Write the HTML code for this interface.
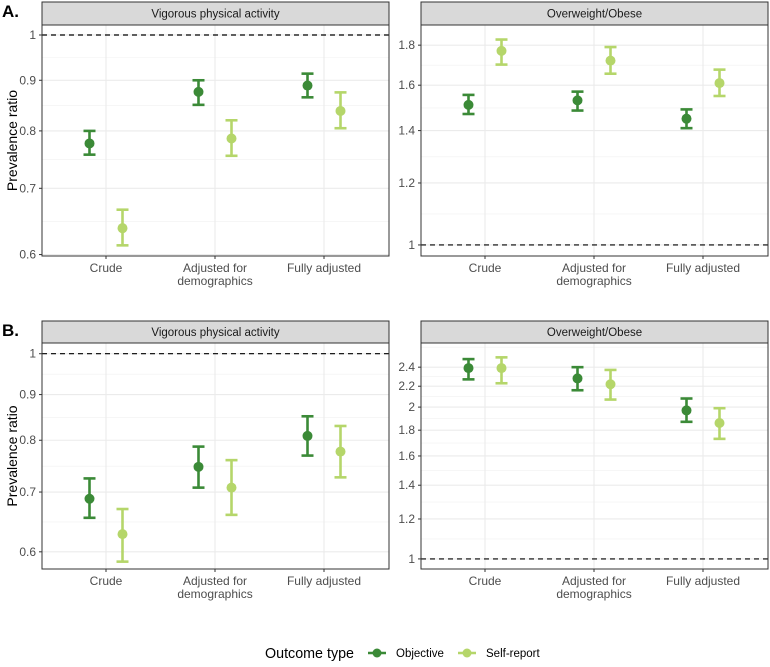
<!DOCTYPE html>
<html><head><meta charset="utf-8">
<style>
body{margin:0;background:#fff;}
svg text{font-family:"Liberation Sans",sans-serif;}
</style></head>
<body>
<svg id="chart" width="770" height="662" viewBox="0 0 770 662" xmlns="http://www.w3.org/2000/svg"></svg>
<script>
const categories = ["Crude", "Adjusted for demographics", "Fully adjusted"];
const seriesNames = ["Objective", "Self-report"];
// Panel A left: Vigorous physical activity
const aVigObj = [0.777, 0.876, 0.889];
const aVigObjLo = [0.757, 0.850, 0.865];
const aVigObjHi = [0.800, 0.900, 0.914];
const aVigSelf = [0.638, 0.786, 0.838];
const aVigSelfLo = [0.613, 0.755, 0.805];
const aVigSelfHi = [0.666, 0.820, 0.875];
// Panel A right: Overweight/Obese
const aOwObj = [1.51, 1.53, 1.45];
const aOwObjLo = [1.47, 1.485, 1.41];
const aOwObjHi = [1.555, 1.57, 1.49];
const aOwSelf = [1.77, 1.72, 1.61];
const aOwSelfLo = [1.70, 1.655, 1.55];
const aOwSelfHi = [1.83, 1.79, 1.675];
// Panel B left
const bVigObj = [0.688, 0.747, 0.809];
const bVigObjLo = [0.655, 0.708, 0.769];
const bVigObjHi = [0.725, 0.787, 0.851];
const bVigSelf = [0.628, 0.708, 0.777];
const bVigSelfLo = [0.585, 0.660, 0.727];
const bVigSelfHi = [0.670, 0.760, 0.830];
// Panel B right
const bOwObj = [2.39, 2.28, 1.97];
const bOwObjLo = [2.27, 2.16, 1.87];
const bOwObjHi = [2.49, 2.40, 2.08];
const bOwSelf = [2.39, 2.22, 1.86];
const bOwSelfLo = [2.23, 2.07, 1.73];
const bOwSelfHi = [2.51, 2.37, 1.99];
// Tick labels
const vigTicks = [0.6, 0.7, 0.8, 0.9, 1];
const vigTickLabels = ["0.6", "0.7", "0.8", "0.9", "1"];
const owTicksA = [1, 1.2, 1.4, 1.6, 1.8];
const owTickLabelsA = ["1", "1.2", "1.4", "1.6", "1.8"];
const owTicksB = [1, 1.2, 1.4, 1.6, 1.8, 2, 2.2, 2.4];
const owTickLabelsB = ["1", "1.2", "1.4", "1.6", "1.8", "2", "2.2", "2.4"];

const NS = "http://www.w3.org/2000/svg";
const svg = document.getElementById("chart");
const COL = ["#3b8a37", "#b5d66a"];
function mk(tag, attrs, parent){
  const e = document.createElementNS(NS, tag);
  for (const k in attrs) e.setAttribute(k, attrs[k]);
  (parent||svg).appendChild(e);
  return e;
}

const panels = [
  {name:"a-vigorous", title:"Vigorous physical activity", x0:42, x1:389, sy:2, y0:25, y1:256, dmin:0.598, dmax:1.0235,
   ticks:vigTicks, labels:vigTickLabels, obj:[aVigObj,aVigObjLo,aVigObjHi], self:[aVigSelf,aVigSelfLo,aVigSelfHi], yTitle:true, tag:"A."},
  {name:"a-overweight", title:"Overweight/Obese", x0:421, x1:768, sy:2, y0:25, y1:256, dmin:0.968, dmax:1.91,
   ticks:owTicksA, labels:owTickLabelsA, obj:[aOwObj,aOwObjLo,aOwObjHi], self:[aOwSelf,aOwSelfLo,aOwSelfHi]},
  {name:"b-vigorous", title:"Vigorous physical activity", x0:42, x1:389, sy:321, y0:343, y1:569, dmin:0.574, dmax:1.028,
   ticks:vigTicks, labels:vigTickLabels, obj:[bVigObj,bVigObjLo,bVigObjHi], self:[bVigSelf,bVigSelfLo,bVigSelfHi], yTitle:true, tag:"B."},
  {name:"b-overweight", title:"Overweight/Obese", x0:421, x1:768, sy:321, y0:343, y1:569, dmin:0.955, dmax:2.68,
   ticks:owTicksB, labels:owTickLabelsB, obj:[bOwObj,bOwObjLo,bOwObjHi], self:[bOwSelf,bOwSelfLo,bOwSelfHi]}
];

panels.forEach(p => {
  const g = mk("g", {});
  
  
  const L0 = Math.log(p.dmin), L1 = Math.log(p.dmax);
  const yS = v => p.y1 - (Math.log(v) - L0) / (L1 - L0) * (p.y1 - p.y0);
  const w = p.x1 - p.x0;
  const xS = i => p.x0 + w * (64 + 109 * i) / 347;
  const dodge = 16.5;
  for (let i = 0; i < p.ticks.length - 1; i++) {
    const m = Math.exp((Math.log(p.ticks[i]) + Math.log(p.ticks[i+1])) / 2);
    mk("line", {x1:p.x0, x2:p.x1, y1:yS(m), y2:yS(m), stroke:"#f0f0f0", "stroke-width":0.6}, g);
  }
  {
    const lo = p.ticks[0], hi = p.ticks[p.ticks.length-1];
    const st = Math.log(p.ticks[1]) - Math.log(lo);
    [Math.exp(Math.log(lo) - st/2), Math.exp(Math.log(hi) + st/2)].forEach(m => {
      if (m > p.dmin && m < p.dmax) mk("line", {x1:p.x0, x2:p.x1, y1:yS(m), y2:yS(m), stroke:"#f0f0f0", "stroke-width":0.6}, g);
    });
  }
  p.ticks.forEach((t, i) => {
    mk("line", {x1:p.x0, x2:p.x1, y1:yS(t), y2:yS(t), stroke:"#ebebeb", "stroke-width":1.1}, g);
    mk("line", {x1:p.x0-3, x2:p.x0, y1:yS(t), y2:yS(t), stroke:"#333", "stroke-width":1}, g);
    const tl = mk("text", {x:p.x0-6, y:yS(t)+4, "text-anchor":"end", "font-size":12, fill:"#4d4d4d"}, g);
    tl.textContent = p.labels[i];
    
    
  });
  categories.forEach((c, i) => {
    mk("line", {x1:xS(i), x2:xS(i), y1:p.y0, y2:p.y1, stroke:"#ebebeb", "stroke-width":1.1}, g);
    mk("line", {x1:xS(i), x2:xS(i), y1:p.y1, y2:p.y1+3, stroke:"#333", "stroke-width":1}, g);
    const words = c === "Adjusted for demographics" ? ["Adjusted for", "demographics"] : [c];
    words.forEach((wd, k) => {
      const tx = mk("text", {x:xS(i), y:p.y1+16+k*13, "text-anchor":"middle", "font-size":12, fill:"#4d4d4d"}, g);
      tx.textContent = wd;
      
      
    });
  });
  mk("line", {x1:p.x0, x2:p.x1, y1:yS(1), y2:yS(1), stroke:"#000", "stroke-width":1.2, "stroke-dasharray":"5,4"}, g);
  [p.obj, p.self].forEach((s, si) => {
    s[0].forEach((v, i) => {
      const x = xS(i) + (si === 0 ? -dodge : dodge);
      const eb = mk("g", {}, g);
      
      
      const lo = yS(s[1][i]), hi = yS(s[2][i]);
      mk("line", {x1:x, x2:x, y1:lo, y2:hi, stroke:COL[si], "stroke-width":2.6}, eb);
      mk("line", {x1:x-6, x2:x+6, y1:lo, y2:lo, stroke:COL[si], "stroke-width":2.6}, eb);
      mk("line", {x1:x-6, x2:x+6, y1:hi, y2:hi, stroke:COL[si], "stroke-width":2.6}, eb);
      const pt = mk("circle", {cx:x, cy:yS(v), r:5, fill:COL[si]}, g);
      
      
    });
  });
  mk("rect", {x:p.x0, y:p.y0, width:w, height:p.y1-p.y0, fill:"none", stroke:"#333", "stroke-width":1}, g);
  const strip = mk("rect", {x:p.x0, y:p.sy, width:w, height:p.y0-p.sy, fill:"#d9d9d9", stroke:"#333", "stroke-width":1}, g);
  
  
  const st = mk("text", {x:p.x0+w/2, y:(p.sy+p.y0)/2+4, "text-anchor":"middle", "font-size":11.5, fill:"#1a1a1a"}, g);
  st.textContent = p.title;
  
  
  if (p.yTitle) {
    const cy = (p.y0 + p.y1) / 2;
    const yt = mk("text", {x:17, y:cy, "text-anchor":"middle", "font-size":14, fill:"#000", transform:"rotate(-90 17 " + cy + ")"}, g);
    yt.textContent = "Prevalence ratio";
    
    
  }
  if (p.tag) {
    const tg = mk("text", {x:2, y:p.sy+15, "font-size":17, "font-weight":"bold", fill:"#000"}, g);
    tg.textContent = p.tag;
    
    
  }
});

// legend
const lg = mk("g", {});


const lt = mk("text", {x:265, y:658, "font-size":14.3, fill:"#000"}, lg);
lt.textContent = "Outcome type";
const lx = [377, 467];
seriesNames.forEach((n, i) => {
  const e = mk("g", {}, lg);
  
  
  mk("line", {x1:lx[i]-9, x2:lx[i]+9, y1:653, y2:653, stroke:COL[i], "stroke-width":2.6}, e);
  mk("circle", {cx:lx[i], cy:653, r:4.5, fill:COL[i]}, e);
  const t = mk("text", {x:lx[i]+19, y:657, "font-size":11.5, fill:"#000"}, e);
  t.textContent = n;
});
</script>
</body></html>
